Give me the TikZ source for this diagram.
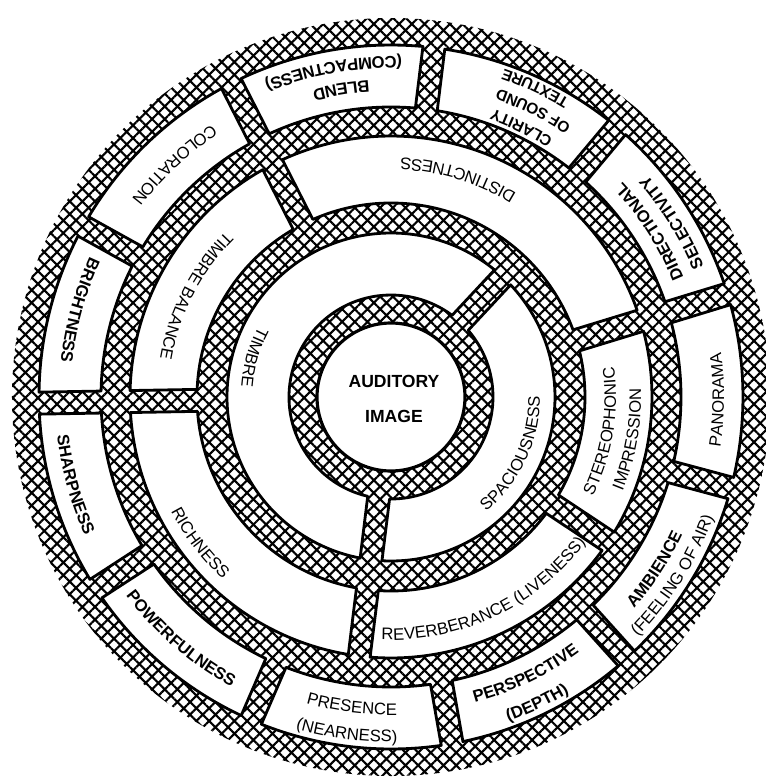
\documentclass[tikz,border=0pt]{standalone}
\usepackage{fontspec}
\setsansfont{Liberation Sans}
\usetikzlibrary{patterns.meta,decorations.text}
\tikzset{%
    hatching/.style={pattern={Hatch[angle=45,distance=5.1pt,line width=1.2pt]}},
    sectorbox/.style={fill=white,draw=black,line width=1.6pt,line join=round},
    corebox/.style={fill=white,draw=black,line width=1.8pt}
}
\newcommand{\ringsector}[4]{%
    \pgfmathsetmacro{\secA}{#3+asin(11/#2)}%
    \pgfmathsetmacro{\secB}{#4-asin(11/#2)}%
    \pgfmathsetmacro{\secC}{#4-asin(11/#1)}%
    \pgfmathsetmacro{\secD}{#3+asin(11/#1)}%
    \filldraw[sectorbox] (\secA:#2) arc[start angle=\secA,end angle=\secB,radius=#2]
        -- (\secC:#1) arc[start angle=\secC,end angle=\secD,radius=#1] -- cycle;}
\newcommand{\ringlabel}[4][]{%
    \path[decorate,decoration={text along path,text align=center,
        text={|\sffamily\fontsize{9.5}{11}\selectfont#1|#4}}]
        (#2-70:#3) arc[start angle=#2-70,end angle=#2+70,radius=#3];}

\begin{document}
\begin{tikzpicture}[x=0.02cm,y=0.02cm]
\useasboundingbox (-391,-381) rectangle (374,397);
\fill[hatching] (0,0) circle[radius=379];

\ringsector{102}{164}{47}{263}
\ringsector{102}{164}{-97}{47}

\ringsector{194}{261}{117}{181}
\ringsector{194}{261}{17}{117}
\ringsector{194}{261}{-33.6}{17}
\ringsector{194}{261}{-97}{-33.6}
\ringsector{194}{261}{181}{263}

\ringsector{290}{352}{151}{181}
\ringsector{290}{352}{117}{151}
\ringsector{290}{352}{83}{117}
\ringsector{290}{352}{50}{83}
\ringsector{290}{352}{17}{50}
\ringsector{290}{352}{-15}{17}
\ringsector{290}{352}{-48}{-15}
\ringsector{290}{352}{-80}{-48}
\ringsector{290}{352}{-113.4}{-80}
\ringsector{290}{352}{-147}{-113.4}
\ringsector{290}{352}{181}{213}

\filldraw[corebox] (0,0) circle[radius=74];
\node[align=center,font=\sffamily\bfseries\fontsize{10}{12}\selectfont] (image) at (3,-2) {AUDITORY\\[8pt]IMAGE};

\ringlabel{164}{150}{TIMBRE}
\ringlabel{-25}{149}{SPACIOUSNESS}

\ringlabel{152.7}{234}{TIMBRE BALANCE}
\ringlabel{73}{239}{DISTINCTNESS}
\ringlabel{-9.2}{225}{STEREOPHONIC}
\ringlabel{-10.1}{250}{IMPRESSION}
\ringlabel{-64.5}{243}{REVERBERANCE (LIVENESS)}
\ringlabel{217.4}{248}{RICHNESS}

\ringlabel[\bfseries]{164.5}{332}{BRIGHTNESS}
\ringlabel{133}{326}{COLORATION}
\ringlabel[\bfseries]{99.2}{317}{BLEND}
\ringlabel[\bfseries]{100}{340}{(COMPACTNESS)}
\ringlabel[\fontsize{8.8}{10}\selectfont\bfseries]{64.2}{305}{CLARITY}
\ringlabel[\fontsize{8.8}{10}\selectfont\bfseries]{63.6}{326}{OF SOUND}
\ringlabel[\fontsize{8.8}{10}\selectfont\bfseries]{65}{347}{TEXTURE}
\ringlabel[\bfseries]{32.6}{316}{DIRECTIONAL}
\ringlabel[\bfseries]{31.8}{339}{SELECTIVITY}
\ringlabel{-0.5}{333}{PANORAMA}
\ringlabel[\bfseries]{-33.1}{322}{AMBIENCE}
\ringlabel{-32.3}{344}{(FEELING OF AIR)}
\ringlabel[\bfseries]{-64.1}{317}{PERSPECTIVE}
\ringlabel[\bfseries]{-64.5}{345}{(DEPTH)}
\ringlabel{-97.2}{318}{PRESENCE}
\ringlabel{-97.5}{345}{(NEARNESS)}
\ringlabel[\bfseries]{229}{331}{POWERFULNESS}
\ringlabel[\bfseries]{195.5}{336}{SHARPNESS}
\end{tikzpicture}
\end{document}
